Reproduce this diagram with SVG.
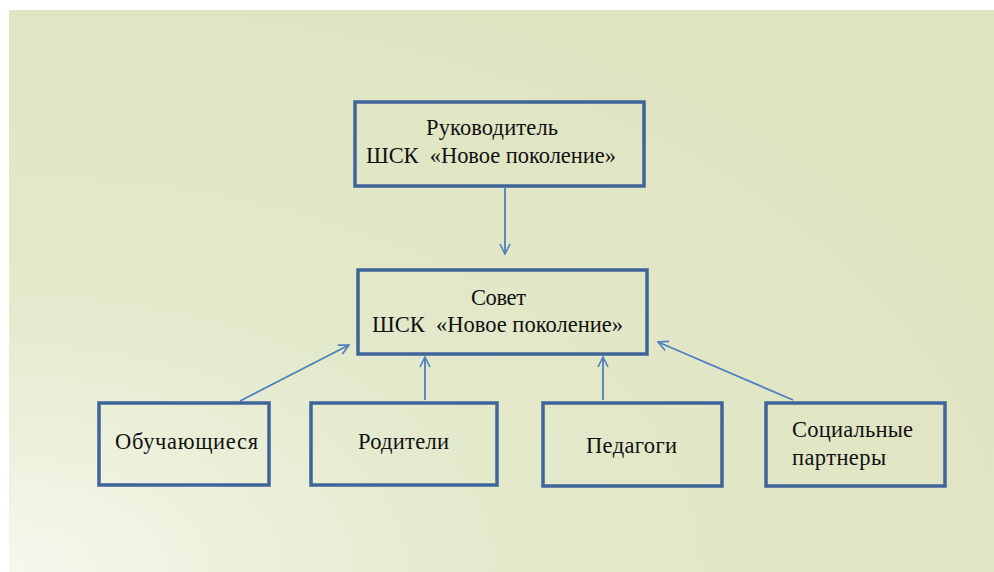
<svg xmlns="http://www.w3.org/2000/svg" width="994" height="572" viewBox="0 0 994 572">
<defs>
<radialGradient id="bg" cx="0" cy="1" r="1.1" gradientUnits="objectBoundingBox">
<stop offset="0" stop-color="#f5f8ec"/>
<stop offset="0.45" stop-color="#e3e9cb"/>
<stop offset="1" stop-color="#dfe5c1"/>
</radialGradient>
<marker id="ah" viewBox="0 0 12 12" refX="11" refY="6" markerWidth="12" markerHeight="12" markerUnits="userSpaceOnUse" orient="auto">
<path d="M1,1 L11,6 L1,11" fill="none" stroke="#4f7fbd" stroke-width="1.6"/>
</marker>
<style>
.box{fill:none;stroke:#3f6499;stroke-width:3.5}
.t{font-family:"Liberation Serif","Times New Roman",serif;font-size:22.5px;fill:#111111}
.c{fill:none;stroke:#4f7fbd;stroke-width:1.8;marker-end:url(#ah)}
</style>
</defs>
<rect width="994" height="572" fill="#ffffff"/>
<rect x="9" y="10" width="985" height="562" fill="url(#bg)"/>
<g id="connectors">
<line class="c" x1="505" y1="188" x2="505" y2="254"/>
<line class="c" x1="240" y1="401" x2="349" y2="345"/>
<line class="c" x1="425" y1="400" x2="425" y2="357"/>
<line class="c" x1="603" y1="400" x2="603" y2="357"/>
<line class="c" x1="793" y1="400" x2="658" y2="342"/>
</g>
<g id="head">
<rect class="box" x="355" y="102" width="289" height="84"/>
<text class="t" x="426" y="135" textLength="132">Руководитель</text>
<text class="t" x="366" y="163" textLength="250" xml:space="preserve">ШСК  «Новое поколение»</text>
</g>
<g id="council">
<rect class="box" x="358" y="270" width="289" height="84"/>
<text class="t" x="471" y="305" textLength="55">Совет</text>
<text class="t" x="372" y="332" textLength="251" xml:space="preserve">ШСК  «Новое поколение»</text>
</g>
<g id="students">
<rect class="box" x="99" y="403" width="170" height="82"/>
<text class="t" x="115" y="449" textLength="143">Обучающиеся</text>
</g>
<g id="parents">
<rect class="box" x="311" y="403" width="186" height="82"/>
<text class="t" x="358" y="449" textLength="91">Родители</text>
</g>
<g id="teachers">
<rect class="box" x="543" y="403" width="179" height="83"/>
<text class="t" x="586" y="453" textLength="91">Педагоги</text>
</g>
<g id="partners">
<rect class="box" x="766" y="403" width="179" height="83"/>
<text class="t" x="792" y="437" textLength="121">Социальные</text>
<text class="t" x="792" y="465" textLength="94">партнеры</text>
</g>
</svg>
